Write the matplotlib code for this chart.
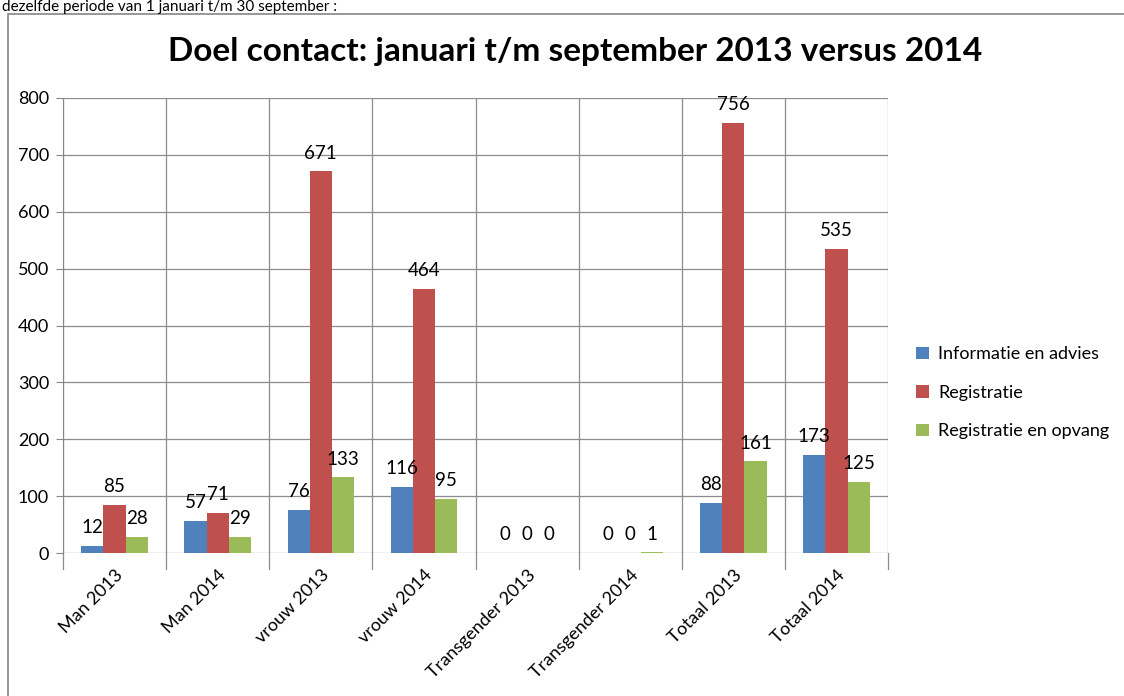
import matplotlib
matplotlib.use("Agg")
import matplotlib.pyplot as plt
import numpy as np
from matplotlib.patches import Rectangle

plt.rcParams['font.family'] = ['Lato', 'DejaVu Sans']

categories = ["Man 2013", "Man 2014", "vrouw 2013", "vrouw 2014",
              "Transgender 2013", "Transgender 2014", "Totaal 2013", "Totaal 2014"]
series_names = ["Informatie en advies", "Registratie", "Registratie en opvang"]
info = [12, 57, 76, 116, 0, 0, 88, 173]
registratie = [85, 71, 671, 464, 0, 0, 756, 535]
opvang = [28, 29, 133, 95, 0, 1, 161, 125]
colors = ["#4F81BD", "#C0504D", "#9BBB59"]
yticks = [0, 100, 200, 300, 400, 500, 600, 700, 800]

W, H = 1124, 696
fig = plt.figure(figsize=(W / 100, H / 100), dpi=100)

# outer frame of the chart (cropped in reference)
fig.patches.append(Rectangle((8 / W, -0.05), 1.2, (1 - 14 / H) + 0.05,
                             transform=fig.transFigure, fill=False,
                             edgecolor="#868686", linewidth=1.2))
fig.text(2 / W, 1 - 11 / H, "dezelfde periode van 1 januari t/m 30 september :",
         fontsize=11, va="baseline", ha="left", color="black")

ax = fig.add_axes([63 / W, 1 - 553 / H, (888 - 63) / W, (553 - 98) / H])

x = np.arange(len(categories))
bw = 0.215
data = [info, registratie, opvang]
for i, (vals, c, name) in enumerate(zip(data, colors, series_names)):
    pos = x + (i - 1) * bw
    ax.bar(pos, vals, width=bw, color=c, label=name, zorder=3)
    for p, v in zip(pos, vals):
        ax.annotate(str(v), (p, v), xytext=(0, 7), textcoords="offset points",
                    ha="center", va="bottom", fontsize=13.5, zorder=4)

ax.set_xlim(-0.5, len(categories) - 0.5)
ax.set_ylim(0, 800)
ax.set_yticks(yticks)
ax.set_yticklabels([str(t) for t in yticks], fontsize=13)
ax.set_xticks(x)
ax.set_xticklabels(categories, rotation=45, ha="right", rotation_mode="anchor", fontsize=13)
ax.tick_params(axis="x", length=0, pad=10)
ax.tick_params(axis="y", length=5, color="#868686", pad=5)

# gridlines
for t in yticks:
    ax.axhline(t, color="#8c8c8c", linewidth=0.9, zorder=1)
for b in np.arange(-0.5, len(categories) + 0.5, 1):
    ax.axvline(b, color="#8c8c8c", linewidth=0.9, zorder=1)
    ax.plot([b, b], [0, -0.035], transform=ax.get_xaxis_transform(),
            color="#8c8c8c", linewidth=0.9, clip_on=False)

for s in ["top", "right", "bottom"]:
    ax.spines[s].set_visible(False)
ax.spines["left"].set_color("#868686")

fig.text(575 / W, 1 - 52 / H, "Doel contact: januari t/m september 2013 versus 2014",
         fontsize=24, fontweight="bold", ha="center", va="center")

leg = fig.legend(loc="upper left", bbox_to_anchor=(900 / W, 1 - 330 / H),
                 frameon=False, fontsize=13, handlelength=0.7, handleheight=0.7,
                 labelspacing=1.25, handletextpad=0.5)

fig.savefig("out.png", dpi=100)
